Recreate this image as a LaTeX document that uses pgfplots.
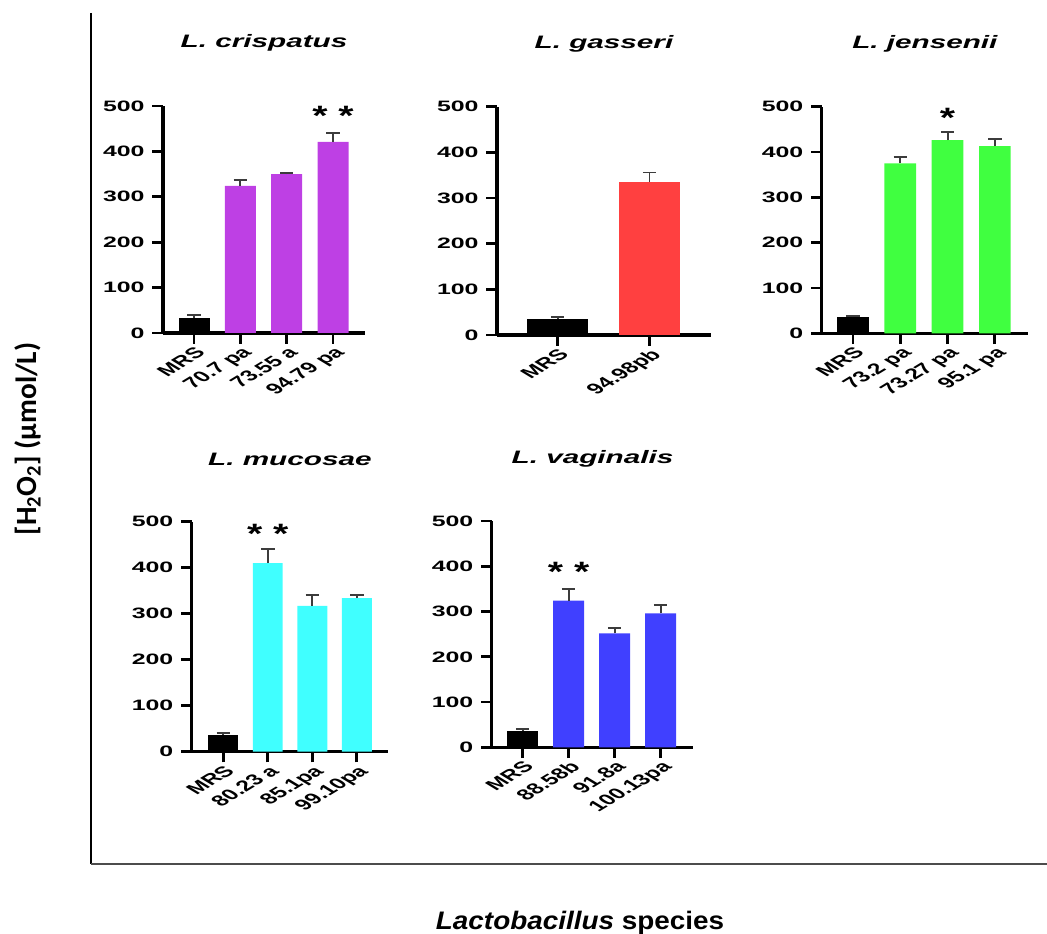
\documentclass[border=0pt]{standalone}
\usepackage{pgfplots}
\pgfplotsset{compat=1.18}
\usepackage{fontspec}
\setmainfont{Liberation Sans}
\newfontfamily\carlito{Carlito}
\definecolor{cpurple}{RGB}{190,64,228}
\definecolor{cred}{RGB}{255,64,64}
\definecolor{cgreen}{RGB}{64,255,64}
\definecolor{ccyan}{RGB}{64,255,255}
\definecolor{cblue}{RGB}{64,64,255}
\definecolor{errgray}{RGB}{60,60,60}
\tikzset{
  ttl/.style={font=\bfseries\itshape\fontsize{13.5}{16}\selectfont, xscale=1.65},
  stars/.style={font=\bfseries\fontsize{21}{24}\selectfont, xscale=1.4},
}
\pgfplotsset{
  panel/.style={
    scale only axis,
    anchor=south west,
    ymin=0, ymax=500,
    ytick={0,100,...,500},
    axis x line*=bottom,
    axis y line*=left,
    axis line style={line width=2.3pt, black, -},
    tick style={line width=2.1pt, black},
    major tick length=8pt,
    tick align=outside,
    ybar, bar width=0.67,
    /pgf/number format/assume math mode=true,
    tick label style={font=\bfseries\fontsize{11.3}{13}\selectfont},
    yticklabel style={xscale=1.65, anchor=east},
    xticklabel style={xscale=1.65, rotate=45, anchor=north east, inner sep=1pt},
    error bars/y dir=plus, error bars/y explicit,
    error bars/error bar style={draw=errgray, line width=1.4pt},
    error bars/error mark options={rotate=90, mark size=5pt, line width=1.4pt, draw=errgray},
    every axis plot/.append style={draw=none, bar shift=0pt},
    clip=false,
  },
}
\begin{document}
\begin{tikzpicture}
\useasboundingbox (0,0) rectangle (785.25pt,-700.5pt);
% outer frame
\draw[line width=2.2pt, black] (68.25pt,-9.75pt) -- (68.25pt,-648.2pt);
\draw[line width=1.4pt, black!70] (68.25pt,-648.2pt) -- (785.25pt,-648.2pt);
\node[rotate=90, font=\carlito\bfseries\fontsize{22}{26}\selectfont] at (21pt,-329.25pt) {[H\textsubscript{2}O\textsubscript{2}] (µmol/L)};
\node[anchor=base, font=\bfseries\fontsize{19}{22}\selectfont, xscale=1.1] at (435pt,-696.75pt) {\textit{Lactobacillus} species};

% L. crispatus
\begin{axis}[panel, at={(122.25pt,-249.75pt)}, width=151.5pt, height=170.25pt,
  xmin=-0.67, xmax=3.69, xtick={0,1,2,3}, xticklabels={MRS,70.7 pa,73.55 a,94.79 pa}]
\addplot[fill=black] coordinates {(0,34) +- (0,5)};
\addplot[fill=cpurple] coordinates {(1,324) +- (0,13) (2,350) +- (0,3) (3,421) +- (0,20)};
\node[ttl] at (rel axis cs:0.5,1) [yshift=47pt] {L. crispatus};
\node[stars] at (axis cs:3,478) {* *};
\end{axis}

% L. gasseri
\begin{axis}[panel, at={(372.75pt,-251.25pt)}, width=160.5pt, height=171.2pt,
  xmin=-0.66, xmax=1.67, xtick={0,1}, xticklabels={MRS,94.98pb}]
\addplot[fill=black] coordinates {(0,34) +- (0,5)};
\addplot[fill=cred] coordinates {(1,336) +- (0,20)};
\node[ttl] at (rel axis cs:0.5,1) [yshift=47pt] {L. gasseri};
\end{axis}

% L. jensenii
\begin{axis}[panel, at={(616.3pt,-250pt)}, width=154.7pt, height=170pt,
  xmin=-0.66, xmax=3.70, xtick={0,1,2,3}, xticklabels={MRS,73.2 pa,73.27 pa,95.1 pa}]
\addplot[fill=black] coordinates {(0,35) +- (0,4)};
\addplot[fill=cgreen] coordinates {(1,375) +- (0,14) (2,426) +- (0,19) (3,413) +- (0,16)};
\node[ttl] at (rel axis cs:0.5,1) [yshift=47pt] {L. jensenii};
\node[stars] at (axis cs:2,475) {*};
\end{axis}

% L. mucosae
\begin{axis}[panel, at={(143.8pt,-563.8pt)}, width=147.2pt, height=172.5pt,
  xmin=-0.71, xmax=3.70, xtick={0,1,2,3}, xticklabels={MRS,80.23 a,85.1pa,99.10pa}]
\addplot[fill=black] coordinates {(0,36) +- (0,4)};
\addplot[fill=ccyan] coordinates {(1,410) +- (0,30) (2,317) +- (0,24) (3,334) +- (0,7)};
\node[ttl] at (rel axis cs:0.5,1) [yshift=47pt] {L. mucosae};
\node[stars] at (axis cs:1,473) {* *};
\end{axis}

% L. vaginalis
\begin{axis}[panel, at={(368.8pt,-560.5pt)}, width=151.2pt, height=169.7pt,
  xmin=-0.67, xmax=3.71, xtick={0,1,2,3}, xticklabels={MRS,88.58b,91.8a,100.13pa}]
\addplot[fill=black] coordinates {(0,35) +- (0,5)};
\addplot[fill=cblue] coordinates {(1,324) +- (0,26) (2,252) +- (0,12) (3,296) +- (0,18)};
\node[ttl] at (rel axis cs:0.5,1) [yshift=47pt] {L. vaginalis};
\node[stars] at (axis cs:1,387) {* *};
\end{axis}
\end{tikzpicture}
\end{document}
